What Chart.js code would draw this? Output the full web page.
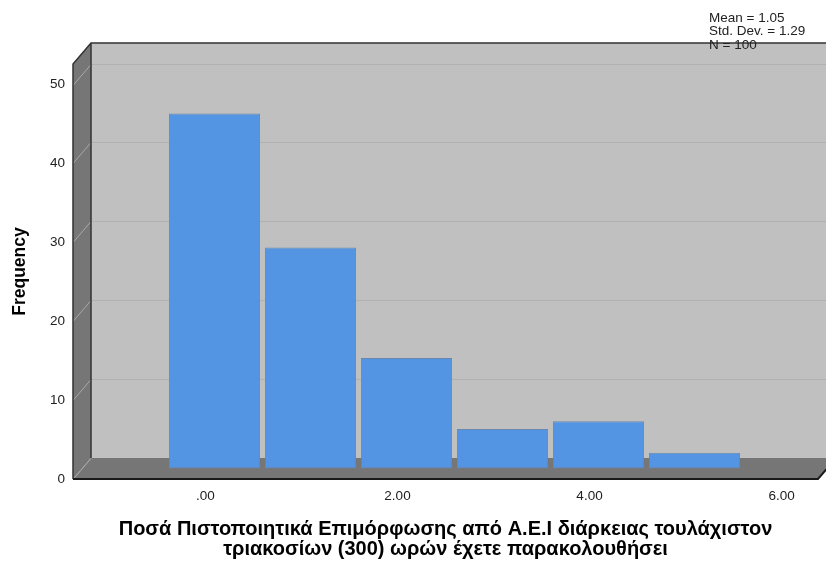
<!DOCTYPE html>
<html>
<head>
<meta charset="utf-8">
<script src="https://cdn.jsdelivr.net/npm/chart.js@4/dist/chart.umd.min.js"></script>
<style>
  html, body { margin: 0; padding: 0; background: #ffffff; }
  #wrap { width: 826px; height: 563px; }
</style>
</head>
<body>
<div id="wrap"><canvas id="chart" width="826" height="563"></canvas></div>
<script>
// Histogram bins (bin centre) and their frequencies
const binCentres = [0, 1, 2, 3, 4, 5];
const frequencies = [45, 28, 14, 5, 6, 2];

// Axis ticks
const xTickValues = [0, 2, 4, 6];
const xTickLabels = ['.00', '2.00', '4.00', '6.00'];
const yTickValues = [0, 10, 20, 30, 40, 50];

// Summary statistics block
const statLines = ['Mean = 1.05', 'Std. Dev. = 1.29', 'N = 100'];

const xTitleLines = [
  'Ποσά Πιστοποιητικά Επιμόρφωσης από Α.Ε.Ι διάρκειας τουλάχιστον',
  'τριακοσίων (300) ωρών έχετε παρακολουθήσει'
];
const yTitle = 'Frequency';

// 3D depth of the frame: back plane offset, bars sit halfway
const DEPTH_X = 18, DEPTH_Y = -21;

const FONT = '"Liberation Sans", Arial, sans-serif';

const framePlugin = {
  id: 'frame3d',
  beforeDatasetsDraw(chart) {
    const { ctx, chartArea: a, scales: { y } } = chart;
    const L = a.left, R = a.right, T = a.top, B = a.bottom;
    ctx.save();
    // back wall
    ctx.fillStyle = '#c0c0c0';
    ctx.fillRect(L + DEPTH_X, T + DEPTH_Y, R - L + 40, B - T);
    // left side wall
    ctx.fillStyle = '#767676';
    ctx.beginPath();
    ctx.moveTo(L, T); ctx.lineTo(L + DEPTH_X, T + DEPTH_Y);
    ctx.lineTo(L + DEPTH_X, B + DEPTH_Y); ctx.lineTo(L, B); ctx.closePath();
    ctx.fill();
    // floor
    ctx.beginPath();
    ctx.moveTo(L, B); ctx.lineTo(L + DEPTH_X, B + DEPTH_Y);
    ctx.lineTo(R + DEPTH_X, B + DEPTH_Y); ctx.lineTo(R, B); ctx.closePath();
    ctx.fill();
    // grid lines on the back wall and side wall
    yTickValues.forEach(v => {
      const py = Math.round(y.getPixelForValue(v)) + 0.5;
      ctx.strokeStyle = '#b1b1b1';
      ctx.lineWidth = 1;
      if (v > 0) {
        ctx.beginPath();
        ctx.moveTo(L + DEPTH_X, py + DEPTH_Y);
        ctx.lineTo(R + DEPTH_X + 20, py + DEPTH_Y);
        ctx.stroke();
      }
      ctx.strokeStyle = '#a9a9a9';
      ctx.beginPath();
      ctx.moveTo(L, py);
      ctx.lineTo(L + DEPTH_X, py + DEPTH_Y);
      ctx.stroke();
    });
    // frame edges
    ctx.strokeStyle = '#333333';
    ctx.lineWidth = 1.5;
    ctx.beginPath();
    ctx.moveTo(L, B); ctx.lineTo(L, T);
    ctx.lineTo(L + DEPTH_X, T + DEPTH_Y);
    ctx.lineTo(R + DEPTH_X + 20, T + DEPTH_Y);
    ctx.moveTo(L + DEPTH_X, T + DEPTH_Y);
    ctx.lineTo(L + DEPTH_X, B + DEPTH_Y);
    ctx.stroke();
    ctx.lineWidth = 2;
    ctx.strokeStyle = '#1a1a1a';
    ctx.beginPath();
    ctx.moveTo(L, B); ctx.lineTo(R, B);
    ctx.lineTo(R + DEPTH_X, B + DEPTH_Y);
    ctx.stroke();
    ctx.restore();

    // bars are drawn on the mid-depth plane
    ctx.save();
    ctx.translate(DEPTH_X / 2, DEPTH_Y / 2);
  },
  afterDatasetsDraw(chart) {
    chart.ctx.restore();
  },
  afterDraw(chart) {
    const { ctx } = chart;
    ctx.save();
    ctx.fillStyle = '#222222';
    ctx.font = '13.5px ' + FONT;
    ctx.textBaseline = 'alphabetic';
    statLines.forEach((s, i) => ctx.fillText(s, 709, 22 + i * 13.3));
    ctx.restore();
  }
};

new Chart(document.getElementById('chart'), {
  type: 'bar',
  data: {
    datasets: [{
      data: binCentres.map((x, i) => ({ x, y: frequencies[i] })),
      backgroundColor: '#5394e3',
      borderColor: '#6a88ad',
      borderWidth: 1,
      borderSkipped: false,
      barPercentage: 1,
      categoryPercentage: 0.95,
      clip: false
    }]
  },
  options: {
    responsive: false,
    animation: false,
    events: [],
    layout: { padding: { top: 64, right: 8, left: 0, bottom: 0 } },
    plugins: { legend: { display: false }, tooltip: { enabled: false } },
    scales: {
      x: {
        type: 'linear',
        offset: false,
        min: -1.38,
        max: 6.38,
        grid: { display: false, drawTicks: false },
        border: { display: false },
        afterBuildTicks: s => { s.ticks = xTickValues.map(v => ({ value: v })); },
        afterFit: s => { s.height = 84; },
        ticks: {
          padding: 9,
          color: '#222222',
          font: { family: FONT, size: 13.5 },
          maxRotation: 0,
          callback: (v) => xTickLabels[xTickValues.indexOf(v)]
        },
        title: {
          display: true,
          text: xTitleLines,
          color: '#000000',
          font: { family: FONT, size: 20, weight: 'bold', lineHeight: 1.0 },
          padding: { top: 0, bottom: 4 }
        }
      },
      y: {
        min: 0,
        max: 52.6,
        grid: { display: false, drawTicks: false },
        border: { display: false },
        afterBuildTicks: s => { s.ticks = yTickValues.map(v => ({ value: v })); },
        afterFit: s => { s.width = 73; },
        ticks: {
          padding: 8,
          color: '#222222',
          font: { family: FONT, size: 13.5 }
        },
        title: {
          display: true,
          text: yTitle,
          color: '#000000',
          font: { family: FONT, size: 17.5, weight: 'bold' },
          padding: { top: 10, bottom: 0 }
        }
      }
    }
  },
  plugins: [framePlugin]
});
</script>
</body>
</html>
